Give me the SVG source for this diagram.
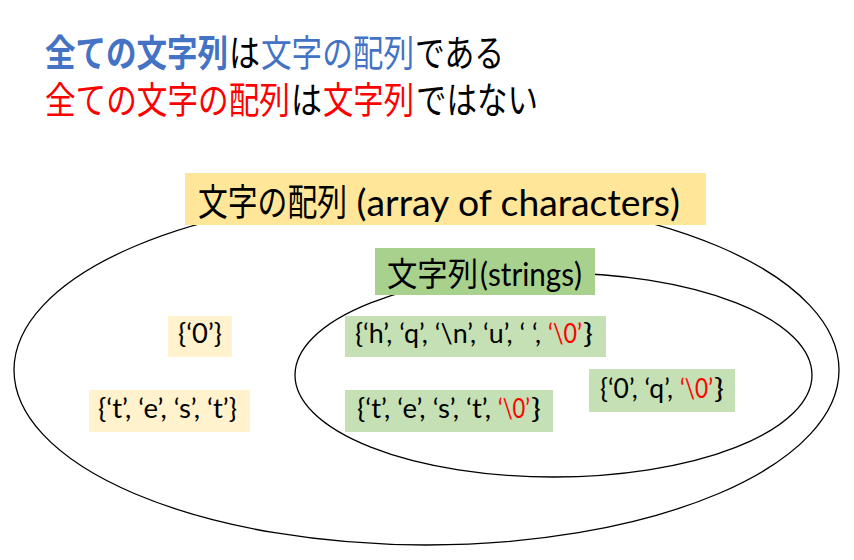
<svg xmlns="http://www.w3.org/2000/svg" width="854" height="560" viewBox="0 0 854 560">
<style>
.cjk{font-family:"Noto Sans CJK JP","Noto Sans",sans-serif;}
.lat{font-family:Lato,"Noto Sans",sans-serif;}
.title{font-family:"Noto Sans CJK JP","Noto Sans",sans-serif;font-size:37px;fill:#000;}
.blue{fill:#4472C4;}
.red{fill:#FF0000;}
.set{fill:none;stroke:#000;stroke-width:1.3;}
.s{font-family:Lato,"Noto Sans",sans-serif;font-size:26px;fill:#000;}
</style>
<rect width="854" height="560" fill="#fff"/>
<g id="title">
<text class="title" y="67"><tspan class="blue" font-weight="bold" x="45" textLength="183" lengthAdjust="spacingAndGlyphs">全ての文字列</tspan><tspan x="229" textLength="31" lengthAdjust="spacingAndGlyphs">は</tspan><tspan class="blue" x="261" textLength="153" lengthAdjust="spacingAndGlyphs">文字の配列</tspan><tspan x="415" textLength="89" lengthAdjust="spacingAndGlyphs">である</tspan></text>
<text class="title" y="114"><tspan class="red" x="45" textLength="245" lengthAdjust="spacingAndGlyphs">全ての文字の配列</tspan><tspan x="291" textLength="31" lengthAdjust="spacingAndGlyphs">は</tspan><tspan class="red" x="323" textLength="91" lengthAdjust="spacingAndGlyphs">文字列</tspan><tspan x="416" textLength="122" lengthAdjust="spacingAndGlyphs">ではない</tspan></text>
</g>
<g id="array-set">
<ellipse class="set" cx="426.5" cy="370" rx="412.5" ry="175"/>
<rect x="185" y="173" width="521" height="52" fill="#FFE699"/>
<text y="216" font-size="37"><tspan class="cjk" x="198" textLength="149" lengthAdjust="spacingAndGlyphs">文字の配列</tspan><tspan class="lat" x="347" textLength="333" lengthAdjust="spacingAndGlyphs"> (array of characters)</tspan></text>
</g>
<g id="string-set">
<ellipse class="set" cx="553.5" cy="375" rx="258.5" ry="102"/>
<rect x="375" y="248" width="220" height="47" fill="#A9D18E"/>
<text y="286" font-size="33"><tspan class="cjk" x="387" textLength="91" lengthAdjust="spacingAndGlyphs">文字列</tspan><tspan class="lat" x="480" textLength="102" lengthAdjust="spacingAndGlyphs">(strings)</tspan></text>
</g>
<g id="item-0">
<rect x="168" y="316" width="64" height="41" fill="#FFF2CC"/>
<text class="s" x="178" y="343" textLength="44" lengthAdjust="spacingAndGlyphs">{‘0’}</text>
</g>
<g id="item-test">
<rect x="89" y="390" width="161" height="42" fill="#FFF2CC"/>
<text class="s" x="98" y="418" textLength="139" lengthAdjust="spacingAndGlyphs">{‘t’, ‘e’, ‘s’, ‘t’}</text>
</g>
<g id="item-hqnu">
<rect x="345" y="316" width="261" height="41" fill="#C5E0B4"/>
<text class="s" y="343"><tspan x="355" textLength="186" lengthAdjust="spacingAndGlyphs">{‘h’, ‘q’, ‘\n’, ‘u’, ‘ ‘,</tspan><tspan class="red" x="548" textLength="34" lengthAdjust="spacingAndGlyphs">‘\0’</tspan><tspan x="583" textLength="10" lengthAdjust="spacingAndGlyphs">}</tspan></text>
</g>
<g id="item-test0">
<rect x="345" y="390" width="208" height="42" fill="#C5E0B4"/>
<text class="s" y="418"><tspan x="357" textLength="134" lengthAdjust="spacingAndGlyphs">{‘t’, ‘e’, ‘s’, ‘t’,</tspan><tspan class="red" x="498" textLength="32" lengthAdjust="spacingAndGlyphs">‘\0’</tspan><tspan x="531" textLength="10" lengthAdjust="spacingAndGlyphs">}</tspan></text>
</g>
<g id="item-0q0">
<rect x="589" y="369" width="146" height="43" fill="#C5E0B4"/>
<text class="s" y="398"><tspan x="600" textLength="73" lengthAdjust="spacingAndGlyphs">{‘0’, ‘q’,</tspan><tspan class="red" x="680" textLength="33" lengthAdjust="spacingAndGlyphs">‘\0’</tspan><tspan x="714" textLength="10" lengthAdjust="spacingAndGlyphs">}</tspan></text>
</g>
<g id="connectors"/>
</svg>
